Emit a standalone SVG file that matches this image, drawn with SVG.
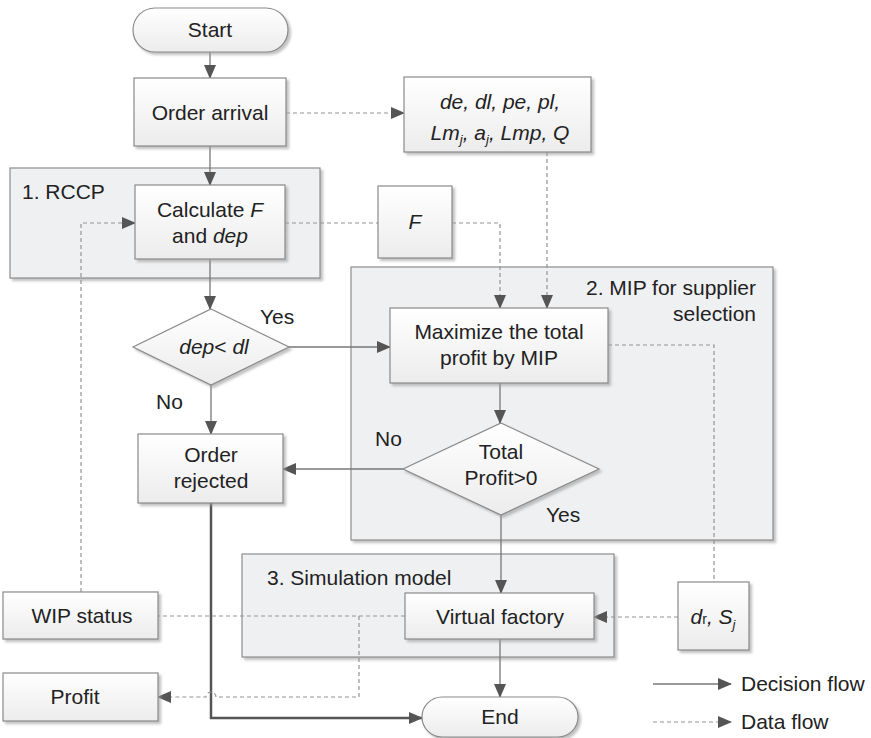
<svg xmlns="http://www.w3.org/2000/svg" width="871" height="738" viewBox="0 0 871 738">
<style>
.t{font-family:"Liberation Sans",Arial,sans-serif;font-size:21px;fill:#222}
.m{text-anchor:middle}
.i{font-style:italic}
.box{fill:url(#g);stroke:#8a8a8a;stroke-width:1.2;filter:url(#sh)}
.grp{fill:#eff0f2;stroke:#8e8e8e;stroke-width:1.2;filter:url(#sh)}
.sol{fill:none;stroke:#777;stroke-width:1.3}
.thick{fill:none;stroke:#555;stroke-width:2.5}
.dash{fill:none;stroke:#939393;stroke-width:1.2;stroke-dasharray:4 3}
</style>
<defs>
<linearGradient id="g" x1="0" y1="0" x2="0" y2="1">
<stop offset="0" stop-color="#ffffff"/>
<stop offset="1" stop-color="#ececec"/>
</linearGradient>
<filter id="sh" x="-10%" y="-10%" width="130%" height="130%">
<feDropShadow dx="2.5" dy="2.5" stdDeviation="1.2" flood-color="#9a9a9a" flood-opacity="0.6"/>
</filter>
<marker id="ar" markerUnits="userSpaceOnUse" markerWidth="14" markerHeight="12" refX="13" refY="6" orient="auto">
<path d="M0,0 L14,6 L0,12 z" fill="#555"/>
</marker>
</defs>
<rect width="871" height="738" fill="#ffffff"/>

<g id="group-rccp">
<rect class="grp" x="10" y="168" width="310" height="110"/>
<text class="t" x="22" y="199">1. RCCP</text>
</g>
<g id="group-mip">
<rect class="grp" x="351" y="267" width="422" height="273"/>
<text class="t" x="756" y="295" text-anchor="end">2. MIP for supplier</text>
<text class="t" x="756" y="321" text-anchor="end">selection</text>
</g>
<g id="group-sim">
<rect class="grp" x="242" y="554" width="372" height="103"/>
<text class="t" x="267" y="585">3. Simulation model</text>
</g>

<g id="connectors">
<path class="sol" d="M210,52 V78" marker-end="url(#ar)"/>
<path class="sol" d="M210,146 V185" marker-end="url(#ar)"/>
<path class="sol" d="M210,259 V309" marker-end="url(#ar)"/>
<path class="sol" d="M288,347 H390" marker-end="url(#ar)"/>
<path class="sol" d="M211,385 V434" marker-end="url(#ar)"/>
<path class="sol" d="M500,383 V423" marker-end="url(#ar)"/>
<path class="sol" d="M403,469 H283" marker-end="url(#ar)"/>
<path class="sol" d="M501,515 V593" marker-end="url(#ar)"/>
<path class="sol" d="M500,639 V697" marker-end="url(#ar)"/>
<path class="thick" d="M211,503 V718 H422" marker-end="url(#ar)"/>
<path class="dash" d="M286,113 H404" marker-end="url(#ar)"/>
<path class="dash" d="M547,152 V308" marker-end="url(#ar)"/>
<path class="dash" d="M285,223 H378"/>
<path class="dash" d="M452,223 H500 V308" marker-end="url(#ar)"/>
<path class="dash" d="M608,345 H714 V582"/>
<path class="dash" d="M678,617 H594" marker-end="url(#ar)"/>
<path class="dash" d="M405,616 H158"/>
<path class="dash" d="M81,592 V223 H135" marker-end="url(#ar)"/>
<path class="dash" d="M359,616 V697 H216 A5,5 0 0 0 206,697 H158" marker-end="url(#ar)"/>
<path class="sol" d="M653,684 H731" marker-end="url(#ar)"/>
<path class="dash" d="M653,722 H731" marker-end="url(#ar)"/>
</g>

<g id="start">
<rect class="box" x="133" y="8" width="155" height="44" rx="22"/>
<text class="t m" x="210" y="37">Start</text>
</g>
<g id="order-arrival">
<rect class="box" x="134" y="78" width="152" height="68"/>
<text class="t m" x="210" y="120">Order arrival</text>
</g>
<g id="params">
<rect class="box" x="404" y="77" width="187" height="75"/>
<text class="t m i" x="500" y="109">de, dl, pe, pl,</text>
<text class="t m i" x="500" y="140">Lm<tspan font-size="13" dy="4">j</tspan><tspan dy="-4">, a</tspan><tspan font-size="13" dy="4">j</tspan><tspan dy="-4">, Lmp, Q</tspan></text>
</g>
<g id="calculate">
<rect class="box" x="135" y="185" width="150" height="74"/>
<text class="t m" x="210" y="217">Calculate <tspan class="i">F</tspan></text>
<text class="t m" x="210" y="243">and <tspan class="i">dep</tspan></text>
</g>
<g id="f-box">
<rect class="box" x="378" y="186" width="74" height="72"/>
<text class="t m i" x="415" y="229">F</text>
</g>
<g id="decision-dep">
<polygon class="box" points="211,309 289,347 211,385 133,347"/>
<text class="t m" x="214" y="354"><tspan class="i">dep</tspan>&lt;<tspan class="i"> dl</tspan></text>
</g>
<g id="label-yes1"><text class="t" x="260" y="324">Yes</text></g>
<g id="label-no1"><text class="t" x="156" y="409">No</text></g>
<g id="maximize">
<rect class="box" x="390" y="308" width="218" height="75"/>
<text class="t m" x="499" y="339">Maximize the total</text>
<text class="t m" x="499" y="365">profit by MIP</text>
</g>
<g id="decision-profit">
<polygon class="box" points="501,423 599,469 501,515 403,469"/>
<text class="t m" x="501" y="459">Total</text>
<text class="t m" x="501" y="485">Profit&gt;0</text>
</g>
<g id="label-no2"><text class="t" x="375" y="446">No</text></g>
<g id="label-yes2"><text class="t" x="546" y="522">Yes</text></g>
<g id="order-rejected">
<rect class="box" x="138" y="434" width="145" height="69"/>
<text class="t m" x="211" y="462">Order</text>
<text class="t m" x="211" y="488">rejected</text>
</g>
<g id="virtual-factory">
<rect class="box" x="405" y="593" width="189" height="46"/>
<text class="t m" x="500" y="624">Virtual factory</text>
</g>
<g id="dr-sj">
<rect class="box" x="678" y="582" width="71" height="68"/>
<text class="t m i" x="713" y="624">d<tspan font-size="14" font-style="normal">r</tspan>, S<tspan font-size="13" dy="5">j</tspan></text>
</g>
<g id="wip-status">
<rect class="box" x="3" y="592" width="155" height="47"/>
<text class="t m" x="82" y="623">WIP status</text>
</g>
<g id="profit">
<rect class="box" x="3" y="673" width="155" height="48"/>
<text class="t m" x="75" y="704">Profit</text>
</g>
<g id="end">
<rect class="box" x="422" y="697" width="156" height="40" rx="20"/>
<text class="t m" x="500" y="724">End</text>
</g>
<g id="legend">
<text class="t" x="741" y="691">Decision flow</text>
<text class="t" x="741" y="729">Data flow</text>
</g>
</svg>
